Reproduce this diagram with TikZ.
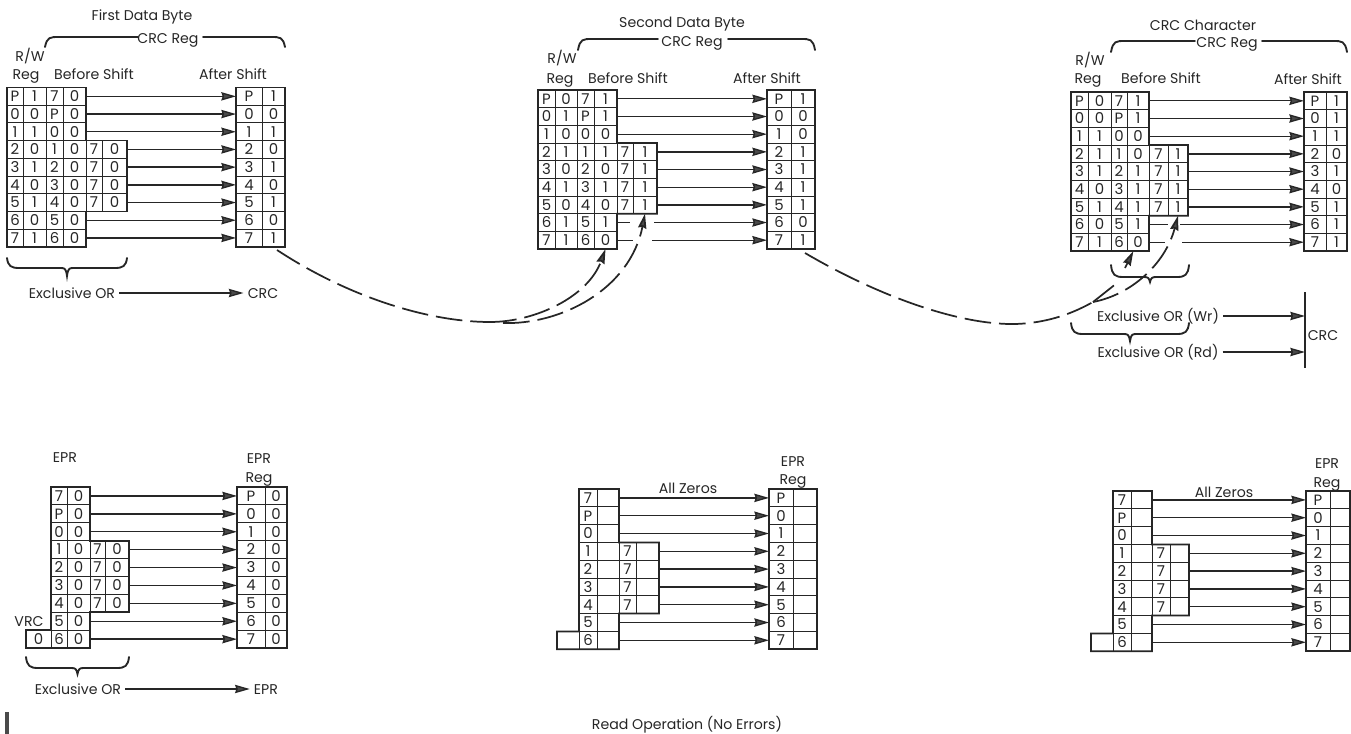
\documentclass[tikz,border=0pt]{standalone}
\usepackage{fontspec}
\setmainfont{Poppins}
\usetikzlibrary{arrows.meta}
\definecolor{ink}{HTML}{262626}
\definecolor{headc}{HTML}{4A4A4A}
\tikzset{
  cellbox/.style={draw=ink,line width=0.7pt,inner sep=0pt,outer sep=0pt,text=ink,text height=8pt,text depth=0pt,font=\fontsize{11.2}{12}\selectfont},
  txt/.style={inner sep=3pt,text=ink,text height=10pt,text depth=2pt,font=\fontsize{10.6}{12}\selectfont},
  conn/.style={draw=ink,line width=1pt,-{Stealth[length=11pt,width=6.2pt,inset=1pt,fill=headc]}},
  dashconn/.style={draw=ink,line width=1.3pt,dash pattern=on 20pt off 6pt},
  dashtip/.style={draw=ink,line width=1.3pt,dash pattern=on 20pt off 6pt,-{Stealth[length=11pt,width=6.2pt,inset=1pt,fill=headc]}},
  solidtip/.style={draw=ink,line width=1.3pt,-{Stealth[length=11pt,width=6.2pt,inset=1pt,fill=headc]}},
  outerline/.style={draw=ink,line width=1.3pt,line join=miter},
  bracketline/.style={draw=ink,line width=1.4pt,line cap=round},
  gapfill/.style={fill=white,draw=none}
}
\newcommand{\mycell}[5]{%
  \node[cellbox,minimum width={((#3)-(#2))*0.75pt},minimum height={\rowh*0.75pt}]
    (#1) at ({((#2)+(#3))/2},{\rowtop+((#4)+0.5)*\rowh}) {#5};}
\newcommand{\setcols}[9]{\def\xa{#1}\def\xb{#2}\def\xc{#3}\def\xd{#4}\def\xe{#5}\def\xf{#6}\def\xg{#7}\def\xp{#8}\def\xq{#9}}
\newcommand{\setrows}[4]{\def\rid{#1}\def\rowtop{#2}\def\rowh{#3}\def\xr{#4}}
\newcommand{\rightcells}[3]{\mycell{\rid-#1-p}{\xp}{\xq}{#1}{#2}\mycell{\rid-#1-q}{\xq}{\xr}{#1}{#3}}
% a b c d | p q
\newcommand{\rowS}[7]{%
  \mycell{\rid-#1-a}{\xa}{\xb}{#1}{#2}\mycell{\rid-#1-b}{\xb}{\xc}{#1}{#3}%
  \mycell{\rid-#1-c}{\xc}{\xd}{#1}{#4}\mycell{\rid-#1-d}{\xd}{\xe}{#1}{#5}%
  \rightcells{#1}{#6}{#7}\draw[conn] (\rid-#1-d.east) -- (\rid-#1-p.west);}
% a b c d e f | p q
\newcommand{\rowL}[9]{%
  \mycell{\rid-#1-a}{\xa}{\xb}{#1}{#2}\mycell{\rid-#1-b}{\xb}{\xc}{#1}{#3}%
  \mycell{\rid-#1-c}{\xc}{\xd}{#1}{#4}\mycell{\rid-#1-d}{\xd}{\xe}{#1}{#5}%
  \mycell{\rid-#1-e}{\xe}{\xf}{#1}{#6}\mycell{\rid-#1-f}{\xf}{\xg}{#1}{#7}%
  \rightcells{#1}{#8}{#9}\draw[conn] (\rid-#1-f.east) -- (\rid-#1-p.west);}
% c d | p q
\newcommand{\rowT}[5]{%
  \mycell{\rid-#1-c}{\xc}{\xd}{#1}{#2}\mycell{\rid-#1-d}{\xd}{\xe}{#1}{#3}%
  \rightcells{#1}{#4}{#5}\draw[conn] (\rid-#1-d.east) -- (\rid-#1-p.west);}
% c d e f | p q
\newcommand{\rowU}[7]{%
  \mycell{\rid-#1-c}{\xc}{\xd}{#1}{#2}\mycell{\rid-#1-d}{\xd}{\xe}{#1}{#3}%
  \mycell{\rid-#1-e}{\xe}{\xf}{#1}{#4}\mycell{\rid-#1-f}{\xf}{\xg}{#1}{#5}%
  \rightcells{#1}{#6}{#7}\draw[conn] (\rid-#1-f.east) -- (\rid-#1-p.west);}
% heavy outlines
\newcommand{\outlineA}[1]{%
  \draw[outerline] (#1-0-a.north west) -- (#1-0-d.north east) -- (#1-3-f.north west-|#1-0-d.north east) -- (#1-3-f.north east) -- (#1-6-f.south east) -- (#1-7-d.north east) -- (#1-8-d.south east) -- (#1-8-a.south west) -- cycle;
  \draw[outerline] (#1-0-p.north west) rectangle (#1-8-q.south east);}
\newcommand{\outlineB}[1]{%
  \draw[outerline] (#1-0-c.north west) -- (#1-0-d.north east) -- (#1-3-f.north west-|#1-0-d.north east) -- (#1-3-f.north east) -- (#1-6-f.south east) -- (#1-7-d.north east) -- (#1-8-d.south east) -- (#1-x.south west) -- (#1-x.north west) -- (#1-x.north east) -- cycle;
  \draw[outerline] (#1-0-p.north west) rectangle (#1-8-q.south east);}
% brackets and braces
\newcommand{\topbracket}[6]{%
  \draw[bracketline] (#1,#3) .. controls (#1+2,#2) and (#1+5,#2) .. (#1+14,#2) -- (#4,#2);
  \draw[bracketline] (#5,#2) -- (#6-14,#2) .. controls (#6-5,#2) and (#6-2,#2) .. (#6,#3);}
\newcommand{\bracefoot}[5]{%
  \draw[bracketline] (#1,#3) .. controls (#1+1,#4-2) and (#1+4,#4) .. (#1+12,#4)
   -- ({(#1+#2)/2-6},#4) .. controls ({(#1+#2)/2-2},#4) and ({(#1+#2)/2-1},#4+1) .. ({(#1+#2)/2},#5)
   .. controls ({(#1+#2)/2+1},#4+1) and ({(#1+#2)/2+2},#4) .. ({(#1+#2)/2+6},#4)
   -- (#2-12,#4) .. controls (#2-4,#4) and (#2-1,#4-2) .. (#2,#3);}
\begin{document}
\begin{tikzpicture}[x=0.75pt,y=-0.75pt]
\useasboundingbox (0,0) rectangle (1351,734);
% ---- Block 1
\setcols{7}{23}{46}{63}{86}{102}{127}{236}{262}
\setrows{one}{87.5}{17.7}{285}
\rowS{0}{P}{1}{7}{0}{P}{1}
\rowS{1}{0}{0}{P}{0}{0}{0}
\rowS{2}{1}{1}{0}{0}{1}{1}
\rowL{3}{2}{0}{1}{0}{7}{0}{2}{0}
\rowL{4}{3}{1}{2}{0}{7}{0}{3}{1}
\rowL{5}{4}{0}{3}{0}{7}{0}{4}{0}
\rowL{6}{5}{1}{4}{0}{7}{0}{5}{1}
\rowS{7}{6}{0}{5}{0}{6}{0}
\rowS{8}{7}{1}{6}{0}{7}{1}
\outlineA{one}
\node[txt] (t1a) at (142,15) {First Data Byte};
\node[txt] (t1b) at (168,38) {CRC Reg};
\node[txt] (t1c) at (30,56) {R/W};
\node[txt] (t1d) at (26,74) {Reg};
\node[txt] (t1e) at (94,74) {Before Shift};
\node[txt] (t1f) at (233,74) {After Shift};
\topbracket{45}{37}{47}{138}{203}{285}
\bracefoot{7}{127}{258}{268}{276}
\node[txt] (x1) at (72,293) {Exclusive OR};
\node[txt] (c1) at (263,293) {CRC};
\draw[conn] (x1.east) -- (c1.west);
% ---- Block 2
\setcols{538}{555}{577}{594}{617}{633}{657}{767}{791}
\setrows{two}{90}{17.67}{815}
\rowS{0}{P}{0}{7}{1}{P}{1}
\rowS{1}{0}{1}{P}{1}{0}{0}
\rowS{2}{1}{0}{0}{0}{1}{0}
\rowL{3}{2}{1}{1}{1}{7}{1}{2}{1}
\rowL{4}{3}{0}{2}{0}{7}{1}{3}{1}
\rowL{5}{4}{1}{3}{1}{7}{1}{4}{1}
\rowL{6}{5}{0}{4}{0}{7}{1}{5}{1}
\rowS{7}{6}{1}{5}{1}{6}{0}
\rowS{8}{7}{1}{6}{0}{7}{1}
\outlineA{two}
\fill[gapfill] (630,218) rectangle (654,228);
\fill[gapfill] (633,235) rectangle (652,245);
\node[txt] (t2a) at (682,22) {Second Data Byte};
\node[txt] (t2b) at (692,41) {CRC Reg};
\node[txt] (t2c) at (562,58) {R/W};
\node[txt] (t2d) at (560,78) {Reg};
\node[txt] (t2e) at (628,78) {Before Shift};
\node[txt] (t2f) at (767,78) {After Shift};
\topbracket{578}{39}{50}{658}{728}{815}
% ---- Block 3
\setcols{1071}{1088}{1111}{1127}{1149}{1168}{1188}{1304}{1326}
\setrows{three}{92}{17.67}{1347}
\rowS{0}{P}{0}{7}{1}{P}{1}
\rowS{1}{0}{0}{P}{1}{0}{1}
\rowS{2}{1}{1}{0}{0}{1}{1}
\rowL{3}{2}{1}{1}{0}{7}{1}{2}{0}
\rowL{4}{3}{1}{2}{1}{7}{1}{3}{1}
\rowL{5}{4}{0}{3}{1}{7}{1}{4}{0}
\rowL{6}{5}{1}{4}{1}{7}{1}{5}{1}
\rowS{7}{6}{0}{5}{1}{6}{1}
\rowS{8}{7}{1}{6}{0}{7}{1}
\outlineA{three}
\fill[gapfill] (1168,220) rectangle (1180,229);
\fill[gapfill] (1165,238) rectangle (1182,247);
\node[txt] (t3a) at (1203,25) {CRC Character};
\node[txt] (t3b) at (1227,42) {CRC Reg};
\node[txt] (t3c) at (1090,60) {R/W};
\node[txt] (t3d) at (1088,78) {Reg};
\node[txt] (t3e) at (1161,78) {Before Shift};
\node[txt] (t3f) at (1308,79) {After Shift};
\topbracket{1111}{41}{52}{1195}{1262}{1347}
\bracefoot{1111}{1189}{265}{277}{282}
\bracefoot{1071}{1189}{323}{334}{341}
\node[txt] (x3w) at (1158,316) {Exclusive OR (Wr)};
\node[txt] (x3r) at (1158,352) {Exclusive OR (Rd)};
\coordinate (bt) at (1305,292);
\coordinate (bb) at (1305,368);
\draw[line width=1pt,draw=ink] (bt) -- (bb);
\coordinate (bw) at (1305,316);
\coordinate (br) at (1305,352);
\draw[conn] (x3w.east) -- (bw);
\draw[conn] (x3r.east) -- (br);
\node[txt] (c3) at (1323,335) {CRC};
% ---- Block 4
\setcols{0}{0}{51}{67}{90}{105}{129}{237}{265}
\setrows{four}{487}{17.9}{287}
\rowT{0}{7}{0}{P}{0}
\rowT{1}{P}{0}{0}{0}
\rowT{2}{0}{0}{1}{0}
\rowU{3}{1}{0}{7}{0}{2}{0}
\rowU{4}{2}{0}{7}{0}{3}{0}
\rowU{5}{3}{0}{7}{0}{4}{0}
\rowU{6}{4}{0}{7}{0}{5}{0}
\rowT{7}{5}{0}{6}{0}
\rowT{8}{6}{0}{7}{0}
\mycell{four-x}{26}{51}{8}{0}
\outlineB{four}
\node[txt] (t4a) at (65,457) {EPR};
\node[txt] (t4b) at (259,458) {EPR};
\node[txt] (t4c) at (259,477) {Reg};
\node[txt] (t4d) at (29,621) {VRC};
\bracefoot{26}{129}{657}{668}{674}
\node[txt] (x4) at (78,689) {Exclusive OR};
\node[txt] (e4) at (266,689) {EPR};
\draw[conn] (x4.east) -- (e4.west);
\fill[headc] (5,712) rectangle (9,734);
% ---- Block 5
\setcols{0}{0}{579}{597}{619}{636}{659}{769}{793}
\setrows{five}{489}{17.8}{817}
\rowT{0}{7}{}{P}{}
\rowT{1}{P}{}{0}{}
\rowT{2}{0}{}{1}{}
\rowU{3}{1}{}{7}{}{2}{}
\rowU{4}{2}{}{7}{}{3}{}
\rowU{5}{3}{}{7}{}{4}{}
\rowU{6}{4}{}{7}{}{5}{}
\rowT{7}{5}{}{6}{}
\rowT{8}{6}{}{7}{}
\mycell{five-x}{557}{579}{8}{}
\outlineB{five}
\node[txt] (t5a) at (793,461) {EPR};
\node[txt] (t5b) at (793,479) {Reg};
\node[txt] (t5c) at (688,488) {All Zeros};
\node[txt] (t5d) at (687,724) {Read Operation (No Errors)};
% ---- Block 6
\setcols{0}{0}{1113}{1131}{1152}{1170}{1189}{1306}{1330}
\setrows{six}{491}{17.8}{1350}
\rowT{0}{7}{}{P}{}
\rowT{1}{P}{}{0}{}
\rowT{2}{0}{}{1}{}
\rowU{3}{1}{}{7}{}{2}{}
\rowU{4}{2}{}{7}{}{3}{}
\rowU{5}{3}{}{7}{}{4}{}
\rowU{6}{4}{}{7}{}{5}{}
\rowT{7}{5}{}{6}{}
\rowT{8}{6}{}{7}{}
\mycell{six-x}{1091}{1113}{8}{}
\outlineB{six}
\node[txt] (t6a) at (1327,463) {EPR};
\node[txt] (t6b) at (1327,482) {Reg};
\node[txt] (t6c) at (1224,492) {All Zeros};
% ---- dashed carries
\coordinate (s1) at (277,250);
\coordinate (j1) at (490,322);
\coordinate (k1) at (503,323);
\draw[dashconn] (s1) .. controls (350,298) and (430,322) .. (j1);
\draw[dashtip] (j1) .. controls (535,322) and (588,297) .. (two-8-d.south);
\draw[dashtip] (k1) .. controls (560,325) and (630,290) .. (two-6-f.south);
\coordinate (s2) at (805,253);
\coordinate (j2) at (1015,324);
\coordinate (k2) at (1093,302);
\coordinate (k3) at (1117,283);
\coordinate (k4) at (1125,268);
\draw[dashconn] (s2) .. controls (880,297) and (960,325) .. (j2) .. controls (1050,323) and (1075,312) .. (k2);
\draw[dashconn] (k2) -- (k3);
\draw[solidtip] (k4) -- ([xshift=-3.5pt]three-8-d.south);
\draw[dashtip] (k2) .. controls (1130,295) and (1165,265) .. (three-6-f.south);
\end{tikzpicture}
\end{document}
